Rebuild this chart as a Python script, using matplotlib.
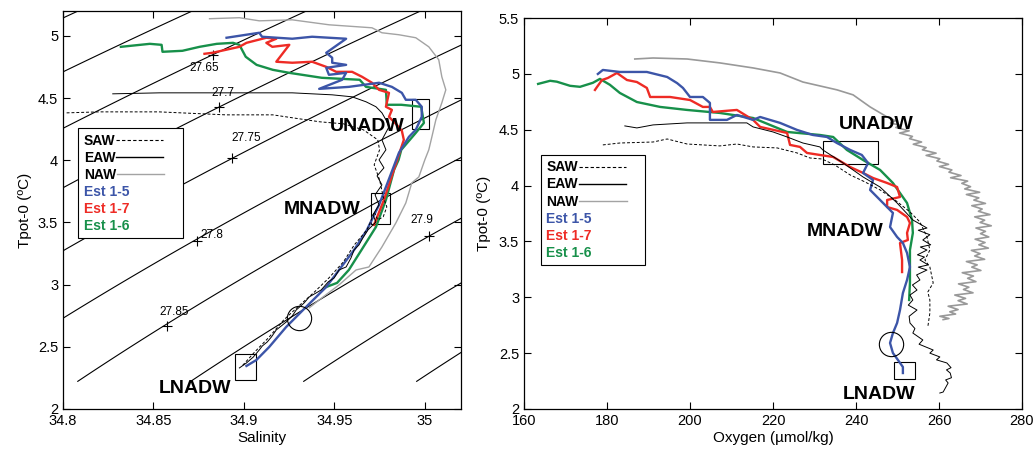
import numpy as np
import matplotlib
matplotlib.use('Agg')
import matplotlib.pyplot as plt
from matplotlib.lines import Line2D
from matplotlib.patches import Rectangle

plt.rcParams['font.family'] = ['Liberation Sans', 'DejaVu Sans']

# --- T-S panel (salinity, potential temperature) ---
saw_ts_sal = [34.802, 34.820, 34.853, 34.890, 34.916, 34.927, 34.942, 34.955, 34.966, 34.974,
              34.975, 34.972, 34.975, 34.977, 34.979, 34.977, 34.974, 34.972, 34.970, 34.968,
              34.961, 34.955, 34.947, 34.939, 34.931, 34.922, 34.914, 34.906, 34.899]
saw_ts_temp = [4.381, 4.389, 4.389, 4.365, 4.365, 4.341, 4.309, 4.293, 4.245, 4.164,
               4.084, 3.963, 3.842, 3.706, 3.625, 3.545, 3.520, 3.585, 3.504, 3.440,
               3.319, 3.183, 3.054, 2.941, 2.837, 2.716, 2.579, 2.459, 2.346]

eaw_ts_sal = [34.8275, 34.8534, 34.8904, 34.9267, 34.9488, 34.9598, 34.9675, 34.9730, 34.9763, 34.9785,
              34.9802, 34.9763, 34.9785, 34.9747, 34.9774, 34.9736, 34.9763, 34.9725, 34.9747, 34.9713,
              34.9730, 34.9686, 34.9658, 34.9636, 34.9609, 34.9592, 34.9565, 34.9526, 34.9499, 34.9466,
              34.9427, 34.9399, 34.9361, 34.9333, 34.9289, 34.9267, 34.9234, 34.9207, 34.9179, 34.9152,
              34.9129, 34.9102, 34.9085, 34.9052, 34.9014, 34.8975]
eaw_ts_temp = [4.534, 4.542, 4.542, 4.542, 4.526, 4.510, 4.470, 4.430, 4.381, 4.325,
               4.269, 4.164, 4.084, 4.003, 3.939, 3.874, 3.802, 3.722, 3.641, 3.561,
               3.504, 3.440, 3.376, 3.319, 3.279, 3.215, 3.142, 3.118, 3.054, 3.022,
               2.957, 2.933, 2.901, 2.853, 2.796, 2.748, 2.700, 2.668, 2.636, 2.579,
               2.539, 2.507, 2.475, 2.418, 2.370, 2.330]

naw_ts_sal = [34.881, 34.8975, 34.9085, 34.9267, 34.9471, 34.9708, 34.9763, 34.9857, 34.995, 35.0022,
              35.0077, 35.0094, 35.0116, 35.0094, 35.0061, 35.0039, 35.0022, 35.000, 34.9967, 34.9928,
              34.9895, 34.984, 34.9763, 34.9691, 34.962, 34.9526, 34.9416, 34.9361]
naw_ts_temp = [5.138, 5.146, 5.121, 5.129, 5.089, 5.065, 5.025, 5.009, 4.985, 4.912,
               4.808, 4.671, 4.566, 4.462, 4.325, 4.188, 4.084, 4.003, 3.866, 3.818,
               3.657, 3.496, 3.303, 3.142, 3.118, 2.998, 2.877, 2.813]

est15_ts_sal = [34.8904, 34.9085, 34.910, 34.9267, 34.9377, 34.9565, 34.9455, 34.9488, 34.9488, 34.9565,
                34.9455, 34.947, 34.9565, 34.9543, 34.9416, 34.958, 34.9747, 34.9818, 34.9873, 34.9895,
                34.995, 34.9983, 34.9983, 34.995, 34.9912, 34.9857, 34.980, 34.9747, 34.968, 34.9609,
                34.9526, 34.9455, 34.9344, 34.9234, 34.914, 34.9069, 34.9014]
est15_ts_temp = [4.985, 5.025, 4.993, 4.977, 4.993, 4.977, 4.864, 4.824, 4.784, 4.767,
                 4.743, 4.687, 4.703, 4.647, 4.574, 4.590, 4.623, 4.590, 4.542, 4.486,
                 4.486, 4.430, 4.349, 4.245, 4.188, 4.060, 3.842, 3.641, 3.440, 3.279,
                 3.118, 2.981, 2.821, 2.660, 2.499, 2.394, 2.346]

est17_ts_sal = [34.8782, 34.8826, 34.8975, 34.9014, 34.9124, 34.9179, 34.9124, 34.9157, 34.9251, 34.9179,
                34.9267, 34.9377, 34.9455, 34.951, 34.9598, 34.9653, 34.9708, 34.9747, 34.9802, 34.9785,
                34.9818, 34.9802, 34.984, 34.9873, 34.9884, 34.9829, 34.9774, 34.9719]
est17_ts_temp = [4.856, 4.864, 4.912, 4.944, 4.985, 4.977, 4.944, 4.912, 4.928, 4.792,
                 4.784, 4.792, 4.751, 4.711, 4.711, 4.671, 4.623, 4.566, 4.542, 4.430,
                 4.405, 4.349, 4.293, 4.237, 4.164, 3.923, 3.681, 3.480]

est16_ts_sal = [34.832, 34.848, 34.8545, 34.855, 34.866, 34.8755, 34.885, 34.894, 34.8975, 34.901,
                34.907, 34.916, 34.925, 34.943, 34.964, 34.9675, 34.9785, 34.979, 34.987, 34.998,
                34.9995, 34.995, 34.987, 34.9855, 34.983, 34.9785, 34.973, 34.965, 34.958, 34.9515,
                34.9455]
est16_ts_temp = [4.912, 4.936, 4.928, 4.872, 4.880, 4.912, 4.936, 4.944, 4.928, 4.832,
                 4.767, 4.727, 4.703, 4.663, 4.647, 4.590, 4.566, 4.446, 4.446, 4.430,
                 4.300, 4.220, 4.084, 4.003, 3.923, 3.681, 3.464, 3.279, 3.118, 3.014,
                 2.981]

# --- Oxygen panel ---
saw_ox = [179.0, 183.1, 191.1, 194.5, 199.3, 207.2, 211.3, 215.2, 221.0, 225.8,
          228.9, 231.8, 234.9, 238.6, 242.2, 245.8, 249.4, 253.0, 255.4, 257.1,
          257.8, 256.6, 257.8, 258.6, 257.3, 257.8, 257.8, 257.3]
saw_ox_temp = [4.364, 4.381, 4.390, 4.417, 4.372, 4.355, 4.372, 4.346, 4.337, 4.292,
               4.247, 4.238, 4.184, 4.095, 4.032, 3.961, 3.871, 3.764, 3.674, 3.540,
               3.423, 3.334, 3.271, 3.128, 3.047, 2.976, 2.859, 2.734]

eaw_ox = [184.3, 187.2, 191.1, 199.3, 207.2, 213.7, 215.2, 220.0, 223.4, 227.2,
          231.3, 232.0, 236.9, 241.7, 245.8, 249.9, 253.7, 257.1, 255.0, 257.8,
          256.1, 258.0, 255.5, 257.1, 254.8, 256.5, 255.4, 257.4, 255.0, 257.1,
          254.6, 255.4, 253.6, 254.7, 253.0, 253.7, 252.6, 254.7, 252.8, 253.0,
          254.2, 253.7, 256.1, 255.2, 258.6, 257.8, 260.2, 259.4, 261.9, 262.9,
          261.8, 262.7, 263.0, 261.6, 262.2, 261.0, 260.2]
eaw_ox_temp = [4.534, 4.516, 4.543, 4.561, 4.561, 4.561, 4.525, 4.480, 4.435, 4.381,
               4.346, 4.319, 4.202, 4.077, 3.987, 3.844, 3.692, 3.620, 3.600, 3.560,
               3.513, 3.470, 3.450, 3.423, 3.380, 3.360, 3.334, 3.290, 3.270, 3.244,
               3.200, 3.155, 3.110, 3.065, 3.020, 2.976, 2.930, 2.886, 2.830, 2.770,
               2.720, 2.680, 2.618, 2.580, 2.528, 2.500, 2.466, 2.440, 2.412, 2.370,
               2.350, 2.322, 2.280, 2.260, 2.233, 2.152, 2.143]

naw_ox = [186.7, 191.1, 199.3, 207.2, 215.2, 221.7, 227.2, 235.4, 239.3, 243.4,
          247.5, 249.5, 248.3, 250.6, 249.6, 252.8, 250.5, 253.6, 252.9, 255.8,
          253.8, 256.9, 256.0, 259.3, 256.9, 260.2, 259.5, 262.3, 260.1, 263.1,
          262.4, 265.3, 262.8, 266.9, 265.5, 267.6, 266.2, 269.8, 266.6, 269.6,
          268.4, 271.2, 267.9, 270.4, 269.5, 272.3, 268.6, 271.0, 269.9, 272.6,
          268.9, 271.2, 270.0, 272.0, 268.7, 271.1, 269.6, 271.9, 267.8, 269.9,
          268.6, 271.0, 266.6, 269.2, 267.9, 270.1, 265.6, 268.3, 266.9, 268.9,
          264.7, 267.2, 265.9, 268.2, 263.8, 266.4, 264.6, 266.8, 262.2, 264.6,
          262.6, 264.0, 260.2, 262.4, 261.0]
naw_ox_temp = [5.133, 5.142, 5.133, 5.098, 5.053, 5.008, 4.927, 4.857, 4.812, 4.704,
               4.614, 4.58, 4.56, 4.54, 4.52, 4.49, 4.47, 4.44, 4.42, 4.39,
               4.37, 4.34, 4.32, 4.29, 4.27, 4.24, 4.22, 4.19, 4.17, 4.14,
               4.12, 4.09, 4.07, 4.04, 4.02, 3.99, 3.97, 3.94, 3.92, 3.89,
               3.87, 3.84, 3.82, 3.79, 3.77, 3.74, 3.72, 3.69, 3.67, 3.64,
               3.62, 3.59, 3.57, 3.54, 3.52, 3.49, 3.47, 3.44, 3.42, 3.39,
               3.37, 3.34, 3.32, 3.29, 3.27, 3.24, 3.22, 3.19, 3.17, 3.14,
               3.12, 3.09, 3.07, 3.04, 3.02, 2.99, 2.97, 2.94, 2.92, 2.89,
               2.87, 2.85, 2.83, 2.81, 2.80]

est15_ox = [177.8, 179.0, 183.1, 189.6, 194.5, 196.9, 198.3, 200.0, 203.1, 204.8,
            204.8, 208.9, 211.3, 215.2, 216.9, 221.7, 225.8, 229.6, 233.0, 235.4,
            238.6, 241.4, 242.9, 241.7, 244.1, 243.4, 245.8, 248.9, 248.2, 249.9,
            251.3, 252.3, 253.0, 252.3, 251.3, 250.6, 249.9, 248.9, 248.2, 248.9,
            250.1, 251.3, 251.3]
est15_ox_temp = [4.999, 5.035, 5.017, 5.017, 4.972, 4.917, 4.874, 4.793, 4.793, 4.740,
                 4.588, 4.588, 4.632, 4.588, 4.614, 4.561, 4.498, 4.453, 4.435, 4.381,
                 4.319, 4.274, 4.202, 4.113, 4.050, 3.961, 3.871, 3.755, 3.629, 3.540,
                 3.486, 3.397, 3.271, 3.155, 3.038, 2.886, 2.770, 2.680, 2.591, 2.501,
                 2.439, 2.376, 2.322]

est17_ox = [177.1, 177.6, 178.8, 180.2, 182.4, 184.8, 187.2, 189.6, 190.4, 195.2,
            200.0, 203.1, 204.8, 205.5, 211.3, 215.2, 216.9, 223.4, 224.1, 226.5,
            228.2, 231.3, 234.5, 238.6, 241.7, 244.1, 247.5, 249.9, 250.6, 247.5,
            247.5, 249.9, 252.3, 253.0, 252.3, 252.5, 250.6, 251.1, 251.1]
est17_ox_temp = [4.856, 4.883, 4.945, 4.963, 5.008, 4.945, 4.927, 4.874, 4.793, 4.793,
                 4.766, 4.704, 4.704, 4.659, 4.677, 4.588, 4.525, 4.471, 4.364, 4.346,
                 4.292, 4.274, 4.256, 4.166, 4.113, 4.068, 4.023, 3.987, 3.898, 3.871,
                 3.808, 3.782, 3.719, 3.665, 3.576, 3.513, 3.486, 3.334, 3.226]

est16_ox = [163.4, 166.3, 167.9, 171.1, 173.5, 176.6, 178.3, 180.7, 183.1, 187.2,
            192.8, 199.3, 207.2, 215.2, 223.4, 231.3, 234.5, 237.8, 241.7, 245.8,
            248.9, 252.3, 253.5, 253.7, 253.0, 253.0, 253.0, 252.8]
est16_ox_temp = [4.910, 4.938, 4.930, 4.893, 4.884, 4.920, 4.955, 4.902, 4.829, 4.748,
                 4.704, 4.677, 4.650, 4.605, 4.480, 4.453, 4.435, 4.319, 4.229, 4.140,
                 4.023, 3.844, 3.692, 3.576, 3.423, 3.271, 3.128, 2.976]

# isopycnal labels
iso_labels = ['27.65', '27.7', '27.75', '27.8', '27.85', '27.9']
iso_plus_sal = [34.8828, 34.8865, 34.8933, 34.8742, 34.8575, 35.0022]
iso_plus_temp = [4.848, 4.432, 4.017, 3.354, 2.670, 3.394]
iso_text_sal = [34.8782, 34.8882, 34.9014, 34.8821, 34.8612, 34.9983]
iso_text_temp = [4.743, 4.542, 4.180, 3.400, 2.780, 3.521]
iso_offset = 0.05  # chart labels sit 0.05 above EOS-80 sigma-0

c_blue = '#3c55a8'
c_red = '#ee2b25'
c_green = '#17904a'
c_naw = '#a3a3a3'


def sigma0(S, T):
    # UNESCO EOS-80 at surface pressure
    rw = (999.842594 + 6.793952e-2*T - 9.095290e-3*T**2 + 1.001685e-4*T**3
          - 1.120083e-6*T**4 + 6.536332e-9*T**5)
    A = 8.24493e-1 - 4.0899e-3*T + 7.6438e-5*T**2 - 8.2467e-7*T**3 + 5.3875e-9*T**4
    B = -5.72466e-3 + 1.0227e-4*T - 1.6546e-6*T**2
    C = 4.8314e-4
    return rw + A*S + B*S**1.5 + C*S**2 - 1000.0


def style_axes(ax):
    ax.tick_params(direction='in', top=True, right=True, length=5, width=0.8, labelsize=10.5)
    for sp in ax.spines.values():
        sp.set_linewidth(0.9)


def add_legend(ax, anchor):
    handles = [Line2D([], [], color='k', ls=(0, (3, 2)), lw=0.8),
               Line2D([], [], color='k', lw=1.0),
               Line2D([], [], color=c_naw, lw=1.0),
               Line2D([], [], ls='none'), Line2D([], [], ls='none'), Line2D([], [], ls='none')]
    labels = ['SAW', 'EAW', 'NAW', 'Est 1-5', 'Est 1-7', 'Est 1-6']
    leg = ax.legend(handles, labels, loc='upper left', bbox_to_anchor=anchor, markerfirst=False,
                    fancybox=False, edgecolor='k', framealpha=1, prop={'weight': 'bold', 'size': 10},
                    handlelength=3.4, handletextpad=0.05, labelspacing=0.22, borderpad=0.4,
                    borderaxespad=0, labelcolor=['k', 'k', 'k', c_blue, c_red, c_green])
    leg.get_frame().set_linewidth(0.8)
    # left-align the rows (text first, line after it)
    for col in leg._legend_handle_box.get_children():
        col.align = 'left'


fig = plt.figure(figsize=(10.33, 4.54), dpi=100)
ax1 = fig.add_axes([63/1033, 45/454, 398/1033, 398/454])
ax2 = fig.add_axes([524/1033, 45/454, 498/1033, 391/454])

# ---- left: T-S ----
sg, tg = np.meshgrid(np.linspace(34.78, 35.05, 300), np.linspace(2.22, 5.3, 300))
dens = sigma0(sg, tg) + iso_offset
ax1.contour(sg, tg, dens, levels=np.round(np.arange(27.5, 28.15, 0.05), 2), colors='k', linewidths=0.8)
ax1.plot(iso_plus_sal, iso_plus_temp, 'k+', ms=7, mew=0.8)
for s, t, lab in zip(iso_text_sal, iso_text_temp, iso_labels):
    ax1.text(s, t, lab, ha='center', va='center', fontsize=8.5)

ax1.plot(naw_ts_sal, naw_ts_temp, color=c_naw, lw=1.0)
ax1.plot(est16_ts_sal, est16_ts_temp, color=c_green, lw=1.7)
ax1.plot(est17_ts_sal, est17_ts_temp, color=c_red, lw=1.7)
ax1.plot(est15_ts_sal, est15_ts_temp, color=c_blue, lw=1.7)
ax1.plot(saw_ts_sal, saw_ts_temp, color='k', ls=(0, (3, 2)), lw=0.7)
ax1.plot(eaw_ts_sal, eaw_ts_temp, color='k', lw=0.7)

for x0, y0, w, h in [(34.993, 4.25, 0.0095, 0.24), (34.9705, 3.488, 0.010, 0.247),
                     (34.8951, 2.233, 0.0116, 0.207)]:
    ax1.add_patch(Rectangle((x0, y0), w, h, fill=False, ec='k', lw=0.8))
ax1.plot([34.9302], [2.73], 'o', mfc='none', mec='k', ms=17.5, mew=0.8)
ax1.text(34.968, 4.269, 'UNADW', ha='center', va='center', fontsize=14, fontweight='bold')
ax1.text(34.9433, 3.601, 'MNADW', ha='center', va='center', fontsize=14, fontweight='bold')
ax1.text(34.8727, 2.161, 'LNADW', ha='center', va='center', fontsize=14, fontweight='bold')

ax1.set_xlim(34.8, 35.02)
ax1.set_ylim(2, 5.2)
ax1.set_xticks([34.8, 34.85, 34.9, 34.95, 35])
ax1.set_xticklabels(['34.8', '34.85', '34.9', '34.95', '35'])
ax1.set_yticks([2, 2.5, 3, 3.5, 4, 4.5, 5])
ax1.set_yticklabels(['2', '2.5', '3', '3.5', '4', '4.5', '5'])
ax1.set_xlabel('Salinity', fontsize=11, labelpad=2)
ax1.set_ylabel('Tpot-0 (ºC)', fontsize=11, labelpad=4)
style_axes(ax1)
add_legend(ax1, (0.038, 0.706))

# ---- right: T-O2 ----
ax2.plot(naw_ox, naw_ox_temp, color='#999999', lw=1.2)
ax2.plot(est16_ox, est16_ox_temp, color=c_green, lw=1.7)
ax2.plot(est17_ox, est17_ox_temp, color=c_red, lw=1.7)
ax2.plot(est15_ox, est15_ox_temp, color=c_blue, lw=1.7)
ax2.plot(saw_ox, saw_ox_temp, color='k', ls=(0, (3, 2)), lw=0.7)
ax2.plot(eaw_ox, eaw_ox_temp, color='k', lw=0.7)

for x0, y0, w, h in [(232.0, 4.19, 13.4, 0.21), (249.2, 2.27, 5.0, 0.153)]:
    ax2.add_patch(Rectangle((x0, y0), w, h, fill=False, ec='k', lw=0.8))
ax2.plot([248.4], [2.58], 'o', mfc='none', mec='k', ms=17.5, mew=0.8)
ax2.text(244.8, 4.551, 'UNADW', ha='center', va='center', fontsize=14, fontweight='bold')
ax2.text(237.3, 3.585, 'MNADW', ha='center', va='center', fontsize=14, fontweight='bold')
ax2.text(245.5, 2.134, 'LNADW', ha='center', va='center', fontsize=14, fontweight='bold')

ax2.set_xlim(160, 280)
ax2.set_ylim(2, 5.5)
ax2.set_xticks(np.arange(160, 281, 20))
ax2.set_yticks([2, 2.5, 3, 3.5, 4, 4.5, 5, 5.5])
ax2.set_yticklabels(['2', '2.5', '3', '3.5', '4', '4.5', '5', '5.5'])
ax2.set_xlabel('Oxygen (µmol/kg)', fontsize=11, labelpad=2)
ax2.set_ylabel('Tpot-0 (ºC)', fontsize=11, labelpad=6)
style_axes(ax2)
add_legend(ax2, (0.034, 0.65))

fig.savefig('out.png', dpi=100)
